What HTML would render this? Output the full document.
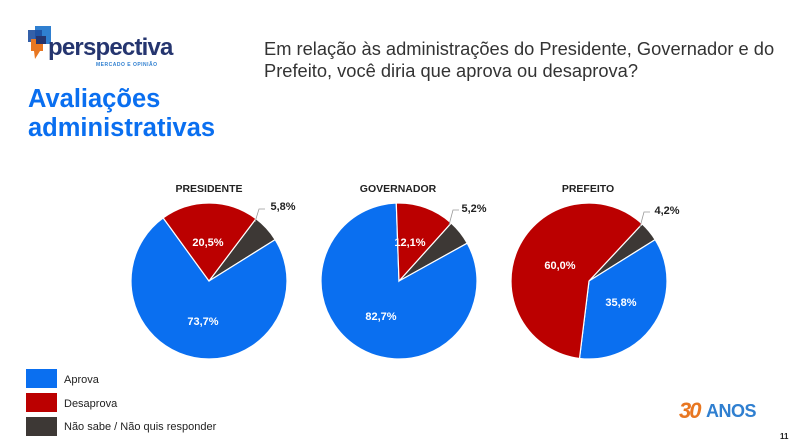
<!DOCTYPE html>
<html><head><meta charset="utf-8"><style>
body{margin:0;width:793px;height:447px;background:#fff;font-family:"Liberation Sans",sans-serif;position:relative;overflow:hidden}
.a{position:absolute;white-space:nowrap}
</style></head><body>
<svg class="a" style="left:28px;top:26px" width="30" height="38" viewBox="0 0 30 38">
<rect x="7" y="0" width="16" height="18" fill="#2f7fd0"/><rect x="0" y="4" width="14" height="12" fill="#1e4fa0" opacity=".9"/>
<rect x="3" y="13" width="12" height="12" fill="#e87722"/><polygon points="6,25 12,25 7,33" fill="#e87722"/>
<rect x="8" y="10" width="10" height="8" fill="#25356f"/></svg>
<div class="a" style="left:48px;top:34px;font-size:24px;font-weight:bold;color:#25356f;letter-spacing:-0.8px">perspectiva</div>
<div class="a" style="left:96px;top:62px;font-size:5px;color:#2f7fd0;font-weight:bold;letter-spacing:0.5px">MERCADO E OPINIÃO</div>
<div class="a" style="left:28px;top:85px;font-size:25.5px;font-weight:bold;color:#0a6ff0;line-height:29px">Avaliações<br>administrativas</div>
<div class="a" style="left:264px;top:38px;font-size:18.3px;color:#333;line-height:22px">Em relação às administrações do Presidente, Governador e do<br>Prefeito, você diria que aprova ou desaprova?</div>
<svg id="s" class="a" style="left:0;top:0" width="793" height="447"></svg>
<div class="a" style="left:26px;top:369px;width:31px;height:19px;background:#0a6ff0"></div>
<div class="a" style="left:26px;top:393px;width:31px;height:19px;background:#bb0000"></div>
<div class="a" style="left:26px;top:417px;width:31px;height:19px;background:#3d3835"></div>
<div class="a" style="left:64px;top:374px;font-size:11px;color:#222">Aprova</div>
<div class="a" style="left:64px;top:398px;font-size:11px;color:#222">Desaprova</div>
<div class="a" style="left:64px;top:421px;font-size:11px;color:#222">Não sabe / Não quis responder</div>
<div class="a" style="left:679px;top:398px;font-size:22px;font-weight:bold;color:#e87722;font-style:italic;letter-spacing:-2px">30</div>
<div class="a" style="left:706px;top:401px;font-size:18px;font-weight:bold;color:#2f7fd0;letter-spacing:-0.5px">ANOS</div>
<div class="a" style="left:780px;top:432px;font-size:8px;font-weight:bold;color:#222">11</div>
<script>
var s=document.getElementById('s'),h='';
function P(cx,cy,r,a0,a1,c){var f=function(a){a=a*Math.PI/180;return [cx+r*Math.sin(a),cy-r*Math.cos(a)]};var p=f(a0),q=f(a1);
h+='<path d="M'+cx+','+cy+'L'+p[0]+','+p[1]+'A'+r+','+r+' 0 '+((a1-a0)>180?1:0)+' 1 '+q[0]+','+q[1]+'Z" fill="'+c+'" stroke="#fff" stroke-width="1.2"/>';}
function T(x,y,t,c,sz){h+='<text x="'+x+'" y="'+y+'" fill="'+c+'" font-size="'+(sz||11)+'" font-weight="bold" text-anchor="middle" font-family="Liberation Sans">'+t+'</text>';}
var R=78,B='#0a6ff0',D='#bb0000',K='#3d3835';
P(209,281,R,37,58,K);P(209,281,R,58,324,B);P(209,281,R,324,397,D);
P(399,281,R,42,61,K);P(399,281,R,61,358,B);P(399,281,R,358,402,D);
P(589,281,R,43,58,K);P(589,281,R,58,187,B);P(589,281,R,187,403,D);
h+='<polyline points="255,222 259,209 265,209" fill="none" stroke="#999" stroke-width="0.8"/>';
h+='<polyline points="449,225 453,210 459,210" fill="none" stroke="#999" stroke-width="0.8"/>';
h+='<polyline points="640,227 644,212 650,212" fill="none" stroke="#999" stroke-width="0.8"/>';
T(209,192,'PRESIDENTE','#222',10.5);T(398,192,'GOVERNADOR','#222',10.5);T(588,192,'PREFEITO','#222',10.5);
T(283,210,'5,8%','#222');T(474,212,'5,2%','#222');T(667,214,'4,2%','#222');
T(208,246,'20,5%','#fff');T(203,325,'73,7%','#fff');T(410,246,'12,1%','#fff');T(381,320,'82,7%','#fff');
T(560,269,'60,0%','#fff');T(621,306,'35,8%','#fff');
s.innerHTML=h;
</script>
</body></html>
